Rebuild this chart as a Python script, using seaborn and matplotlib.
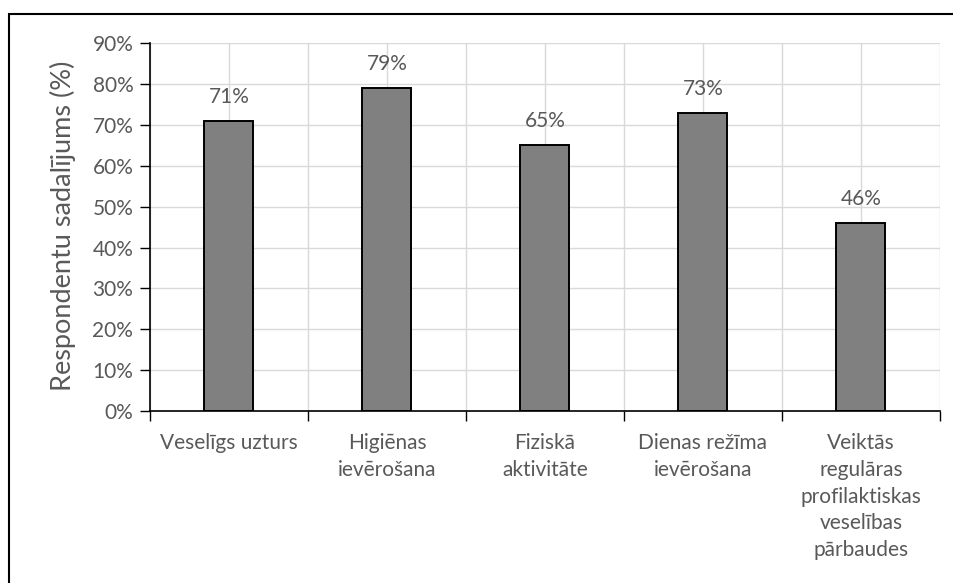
import numpy as np
import pandas as pd
import matplotlib
matplotlib.use("Agg")
import matplotlib.pyplot as plt
import seaborn as sns
from matplotlib.patches import Rectangle
from matplotlib.ticker import FuncFormatter, MultipleLocator

categories = ["Veselīgs uzturs", "Higiēnas\nievērošana", "Fiziskā\naktivitāte",
              "Dienas režīma\nievērošana",
              "Veiktās\nregulāras\nprofilaktiskas\nveselības\npārbaudes"]
values = [71, 79, 65, 73, 46]
y_label = "Respondentu sadalījums (%)"

sns.set_theme(style="white")
plt.rcParams['font.family'] = ['Lato', 'DejaVu Sans']

text_col = '#595959'
grid_col = '#d9d9d9'
fs = 15

df = pd.DataFrame({'kategorija': categories, 'vertiba': values})

fig = plt.figure(figsize=(9.54, 5.83), dpi=100)
ax = fig.add_axes([0.1572, 0.295, 0.9853 - 0.1572, 0.926 - 0.295])

sns.barplot(data=df, x='kategorija', y='vertiba', ax=ax, color='#808080',
            edgecolor='black', linewidth=1.4, width=0.31, saturation=1, zorder=3)

# datu etiķetes
for i, v in enumerate(values):
    ax.annotate(f'{v}%', (i, v), xytext=(0, 10), textcoords='offset points',
                ha='center', va='bottom', fontsize=fs, color=text_col)

ax.set_xlim(-0.5, 4.5)
ax.set_ylim(0, 90)
ax.yaxis.set_major_locator(MultipleLocator(10))
ax.yaxis.set_major_formatter(FuncFormatter(lambda v, p: f'{v:.0f}%'))

ax.set_xticks(np.arange(len(categories)))
ax.set_xticklabels(categories, linespacing=1.42)
ax.set_xticks(np.arange(-0.5, len(categories), 1.0), minor=True)

ax.tick_params(axis='x', which='major', length=0, pad=16, labelsize=fs, labelcolor=text_col)
ax.tick_params(axis='x', which='minor', length=7, width=1, color='black', direction='out', bottom=True)
ax.tick_params(axis='y', which='major', length=7, width=1, color='black', direction='out',
               left=True, pad=5, labelsize=fs, labelcolor=text_col)
for lab in ax.get_xticklabels():
    lab.set_va('top')

ax.grid(True, which='both', axis='x', color=grid_col, linewidth=1, zorder=0)
ax.grid(True, which='major', axis='y', color=grid_col, linewidth=1, zorder=0)
ax.set_axisbelow(True)

for side in ['top', 'right']:
    ax.spines[side].set_visible(False)
for side in ['left', 'bottom']:
    ax.spines[side].set_color('black')
    ax.spines[side].set_linewidth(1.2)
    ax.spines[side].set_zorder(4)

ax.set_xlabel('')
ax.set_ylabel(y_label, fontsize=19.5, color=text_col)
ax.yaxis.set_label_coords(-0.093, 0.503)

# diagrammas rāmis
fig.patches.append(Rectangle((0.0094, -0.2), 1.2, 0.976 + 0.2, transform=fig.transFigure,
                             fill=False, edgecolor='black', linewidth=1.5))

fig.savefig('out.png', dpi=100)
